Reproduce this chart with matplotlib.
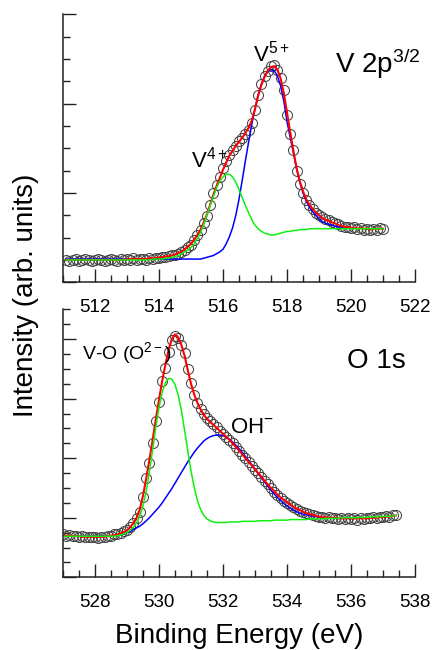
import numpy as np
import matplotlib
matplotlib.use('Agg')
from matplotlib import pyplot as plt
from matplotlib.ticker import MultipleLocator, NullFormatter

plt.rcParams['font.family'] = ['Liberation Sans', 'DejaVu Sans']
plt.rcParams['mathtext.fontset'] = 'custom'
plt.rcParams['mathtext.rm'] = 'Liberation Sans'
plt.rcParams['mathtext.it'] = 'Liberation Sans:italic'
plt.rcParams['mathtext.bf'] = 'Liberation Sans:bold'

# ---- V 2p3/2 region ----
v_energy = np.round(np.arange(511.1, 521.05, 0.1), 1)
v_data = [
    0.25, 0.24, 0.25, 0.26, 0.24, 0.25, 0.26, 0.25, 0.24, 0.25,
    0.26, 0.25, 0.24, 0.25, 0.26, 0.25, 0.24, 0.26, 0.25, 0.26,
    0.25, 0.27, 0.25, 0.26, 0.26, 0.25, 0.27, 0.26, 0.27, 0.27,
    0.28, 0.28, 0.29, 0.30, 0.31, 0.32, 0.34, 0.36, 0.39, 0.42,
    0.47, 0.53, 0.58, 0.66, 0.74, 0.86, 1.00, 1.09, 1.18, 1.28,
    1.36, 1.43, 1.48, 1.53, 1.58, 1.62, 1.66, 1.71, 1.78, 1.93,
    2.10, 2.22, 2.31, 2.37, 2.42, 2.43, 2.38, 2.29, 2.15, 1.87,
    1.66, 1.48, 1.25, 1.10, 1.00, 0.92, 0.86, 0.82, 0.78, 0.75,
    0.73, 0.71, 0.70, 0.68, 0.66, 0.65, 0.63, 0.62, 0.62, 0.61,
    0.62, 0.60, 0.61, 0.59, 0.60, 0.58, 0.60, 0.59, 0.61, 0.60,
]
v_fit = [
    0.25, 0.25, 0.25, 0.25, 0.25, 0.25, 0.25, 0.25, 0.25, 0.25,
    0.25, 0.25, 0.25, 0.25, 0.25, 0.25, 0.25, 0.25, 0.25, 0.26,
    0.26, 0.26, 0.26, 0.26, 0.26, 0.26, 0.27, 0.27, 0.27, 0.28,
    0.28, 0.29, 0.29, 0.30, 0.31, 0.33, 0.34, 0.37, 0.40, 0.43,
    0.48, 0.53, 0.59, 0.67, 0.76, 0.87, 0.98, 1.08, 1.17, 1.26,
    1.34, 1.42, 1.47, 1.53, 1.57, 1.62, 1.67, 1.73, 1.81, 1.94,
    2.09, 2.21, 2.30, 2.37, 2.41, 2.42, 2.38, 2.28, 2.12, 1.90,
    1.68, 1.47, 1.28, 1.13, 1.02, 0.93, 0.87, 0.82, 0.78, 0.75,
    0.72, 0.70, 0.69, 0.67, 0.66, 0.64, 0.63, 0.62, 0.62, 0.61,
    0.61, 0.60, 0.61, 0.60, 0.60, 0.59, 0.60, 0.60, 0.60, 0.60,
]
v5_peak = [
    0.26, 0.26, 0.26, 0.26, 0.26, 0.26, 0.26, 0.26, 0.26, 0.26,
    0.26, 0.26, 0.26, 0.26, 0.26, 0.26, 0.26, 0.26, 0.26, 0.26,
    0.26, 0.26, 0.26, 0.26, 0.26, 0.26, 0.26, 0.26, 0.26, 0.26,
    0.26, 0.26, 0.26, 0.26, 0.26, 0.26, 0.26, 0.26, 0.26, 0.26,
    0.26, 0.26, 0.26, 0.27, 0.28, 0.29, 0.30, 0.32, 0.34, 0.37,
    0.43, 0.51, 0.61, 0.75, 0.93, 1.14, 1.36, 1.57, 1.77, 1.94,
    2.10, 2.22, 2.31, 2.36, 2.38, 2.37, 2.31, 2.20, 2.03, 1.80,
    1.62, 1.45, 1.27, 1.12, 1.00, 0.91, 0.84, 0.79, 0.75, 0.71,
    0.68, 0.66, 0.65, 0.64, 0.63, 0.62, 0.61, 0.61, 0.61, 0.60,
]
v4_peak = [
    0.25, 0.25, 0.25, 0.25, 0.25, 0.25, 0.25, 0.25, 0.25, 0.25,
    0.25, 0.25, 0.25, 0.25, 0.25, 0.25, 0.25, 0.25, 0.25, 0.25,
    0.25, 0.25, 0.25, 0.25, 0.25, 0.25, 0.25, 0.26, 0.26, 0.26,
    0.26, 0.27, 0.27, 0.28, 0.29, 0.30, 0.32, 0.34, 0.36, 0.39,
    0.43, 0.49, 0.56, 0.65, 0.75, 0.86, 0.96, 1.06, 1.13, 1.18,
    1.21, 1.21, 1.18, 1.12, 1.04, 0.95, 0.86, 0.78, 0.70, 0.64,
    0.60, 0.57, 0.55, 0.54, 0.53, 0.53, 0.54, 0.55, 0.56, 0.57,
    0.57, 0.58, 0.58, 0.59, 0.59, 0.59, 0.60, 0.60, 0.60, 0.60,
    0.60, 0.60, 0.60, 0.60, 0.60, 0.60, 0.60, 0.60, 0.60, 0.60,
    0.60, 0.60, 0.60, 0.60, 0.60, 0.60, 0.60, 0.60, 0.60, 0.60,
]

# ---- O 1s region ----
o_energy = np.round(np.arange(527.0, 537.45, 0.1), 1)
o_data = [
    0.72, 0.70, 0.71, 0.69, 0.70, 0.68, 0.69, 0.67, 0.68, 0.67,
    0.68, 0.66, 0.68, 0.67, 0.69, 0.70, 0.72, 0.73, 0.75, 0.77,
    0.80, 0.85, 0.91, 1.00, 1.10, 1.35, 1.66, 1.92, 2.25, 2.62,
    2.95, 3.30, 3.52, 3.78, 3.98, 4.06, 4.02, 3.90, 3.76, 3.50,
    3.26, 3.06, 2.93, 2.83, 2.74, 2.67, 2.62, 2.57, 2.52, 2.46,
    2.41, 2.36, 2.31, 2.25, 2.19, 2.12, 2.06, 2.00, 1.94, 1.87,
    1.81, 1.75, 1.68, 1.62, 1.56, 1.50, 1.44, 1.39, 1.34, 1.29,
    1.25, 1.21, 1.18, 1.15, 1.12, 1.10, 1.08, 1.06, 1.04, 1.03,
    1.02, 1.01, 1.00, 1.01, 0.99, 1.00, 0.98, 0.99, 0.98, 1.00,
    0.98, 0.99, 0.97, 0.99, 0.98, 1.00, 0.99, 1.01, 0.99, 1.02,
    1.01, 1.03, 1.02, 1.04, 1.05,
]
o_fit = [
    0.70, 0.70, 0.70, 0.69, 0.69, 0.69, 0.68, 0.68, 0.68, 0.68,
    0.68, 0.68, 0.68, 0.68, 0.69, 0.70, 0.71, 0.72, 0.74, 0.76,
    0.79, 0.84, 0.91, 1.00, 1.14, 1.37, 1.66, 1.97, 2.30, 2.65,
    2.98, 3.30, 3.57, 3.82, 4.00, 4.08, 4.03, 3.90, 3.72, 3.48,
    3.25, 3.07, 2.93, 2.82, 2.73, 2.66, 2.61, 2.56, 2.51, 2.46,
    2.41, 2.36, 2.31, 2.25, 2.19, 2.13, 2.07, 2.00, 1.94, 1.88,
    1.81, 1.75, 1.69, 1.62, 1.56, 1.50, 1.45, 1.39, 1.34, 1.30,
    1.26, 1.22, 1.18, 1.15, 1.13, 1.10, 1.08, 1.06, 1.05, 1.03,
    1.02, 1.01, 1.01, 1.00, 1.00, 1.00, 0.99, 0.99, 0.99, 0.99,
    0.99, 0.99, 0.99, 0.99, 0.99, 0.99, 1.00, 1.00, 1.00, 1.01,
    1.01, 1.02, 1.02, 1.03, 1.04,
]
oh_peak = [
    0.69, 0.69, 0.69, 0.69, 0.69, 0.69, 0.69, 0.69, 0.69, 0.69,
    0.69, 0.69, 0.69, 0.69, 0.69, 0.69, 0.70, 0.71, 0.72, 0.73,
    0.75, 0.77, 0.80, 0.83, 0.86, 0.90, 0.95, 1.00, 1.06, 1.12,
    1.18, 1.25, 1.33, 1.41, 1.49, 1.58, 1.67, 1.76, 1.85, 1.94,
    2.02, 2.10, 2.17, 2.23, 2.29, 2.33, 2.36, 2.38, 2.39, 2.39,
    2.38, 2.35, 2.32, 2.27, 2.22, 2.16, 2.10, 2.03, 1.96, 1.89,
    1.82, 1.74, 1.67, 1.60, 1.53, 1.46, 1.40, 1.34, 1.29, 1.24,
    1.20, 1.16, 1.13, 1.10, 1.08, 1.06, 1.05, 1.04, 1.03, 1.02,
    1.01, 1.00, 1.00, 0.99, 0.99, 0.99, 0.99, 0.99, 0.99, 0.99,
    0.99,
]
o2_peak = [
    0.69, 0.69, 0.69, 0.69, 0.69, 0.69, 0.69, 0.69, 0.69, 0.69,
    0.69, 0.69, 0.69, 0.69, 0.69, 0.69, 0.69, 0.70, 0.71, 0.73,
    0.75, 0.79, 0.84, 0.92, 1.03, 1.20, 1.45, 1.77, 2.14, 2.52,
    2.85, 3.11, 3.27, 3.34, 3.33, 3.24, 3.06, 2.80, 2.47, 2.12,
    1.79, 1.51, 1.29, 1.14, 1.04, 0.98, 0.95, 0.93, 0.92, 0.92,
    0.92, 0.92, 0.93, 0.93, 0.93, 0.93, 0.94, 0.94, 0.94, 0.94,
    0.94, 0.95, 0.95, 0.95, 0.95, 0.95, 0.96, 0.96, 0.96, 0.96,
    0.96, 0.97, 0.97, 0.97, 0.97, 0.97, 0.97, 0.98, 0.98, 0.98,
    0.98, 0.98, 0.99, 0.99, 0.99, 0.99, 0.99, 1.00, 1.00, 1.00,
    1.00, 1.00, 1.00, 1.01, 1.00, 1.01, 1.01, 1.02, 1.01, 1.02,
    1.02, 1.03, 1.02, 1.03, 1.04,
]

v_labels = [512, 514, 516, 518, 520, 522]
o_labels = [528, 530, 532, 534, 536, 538]

DATA_KW = dict(ls='none', marker='o', ms=7.2, mfc='none', mec='#454545', mew=0.75)
BLUE, RED, GREEN = '#0000ff', '#ff0000', '#10f010'


def style_axes(ax, xlim, ylim, ticks):
    ax.set_xlim(*xlim)
    ax.set_ylim(*ylim)
    ax.set_xticks(ticks)
    ax.xaxis.set_minor_locator(MultipleLocator(0.5))
    ax.yaxis.set_major_locator(MultipleLocator(1))
    ax.yaxis.set_minor_locator(MultipleLocator(0.25))
    ax.yaxis.set_major_formatter(NullFormatter())
    ax.tick_params(which='both', direction='in', width=1.0, color='#222222')
    ax.tick_params(which='major', length=9.5)
    ax.tick_params(which='minor', length=5)
    ax.tick_params(axis='x', labelsize=13.5, pad=12)
    ax.tick_params(axis='y', left=True, labelleft=False)
    ax.patch.set_visible(False)
    for s in ['top', 'right']:
        ax.spines[s].set_visible(False)
    for s in ['left', 'bottom']:
        ax.spines[s].set_linewidth(1.1)
        ax.spines[s].set_color('#222222')


fig = plt.figure(figsize=(4.33, 6.5), dpi=100)
ax1 = fig.add_axes([0.1455, 0.5657, 0.8129, 0.4123])
ax2 = fig.add_axes([0.1455, 0.1118, 0.8129, 0.4123])

# V 2p
ax1.plot(v_energy, v_data, **DATA_KW)
ax1.plot(v_energy[:len(v5_peak)], v5_peak, color=BLUE, lw=1.1)
ax1.plot(v_energy, v_fit, color=RED, lw=1.5)
ax1.plot(v_energy, v4_peak, color=GREEN, lw=1.1)
style_axes(ax1, (511, 522), (0, 3), v_labels)
ax1.text(519.5, 2.34, r'V 2p$^{3/2}$', fontsize=20)
ax1.text(516.94, 2.47, r'V$^{5+}$', fontsize=16)
ax1.text(515.0, 1.28, r'V$^{4+}$', fontsize=16)

# O 1s
ax2.plot(o_energy, o_data, **DATA_KW)
ax2.plot(o_energy[:len(oh_peak)], oh_peak, color=BLUE, lw=1.1)
ax2.plot(o_energy, o_fit, color=RED, lw=1.5)
ax2.plot(o_energy, o2_peak, color=GREEN, lw=1.1)
style_axes(ax2, (527, 538), (0, 4.5), o_labels)
ax2.text(535.875, 3.52, 'O 1s', fontsize=20)
ax2.text(527.59, 3.67, r'V-O (O$^{2-}$)', fontsize=14)
ax2.text(532.22, 2.43, r'OH$^{-}$', fontsize=16)

ax2.set_xlabel('Binding Energy (eV)', fontsize=20, labelpad=9)
fig.text(26 / 433, 1 - 295 / 650, 'Intensity (arb. units)', fontsize=20,
         rotation=90, ha='center', va='center')

fig.savefig('out.png', dpi=100)
